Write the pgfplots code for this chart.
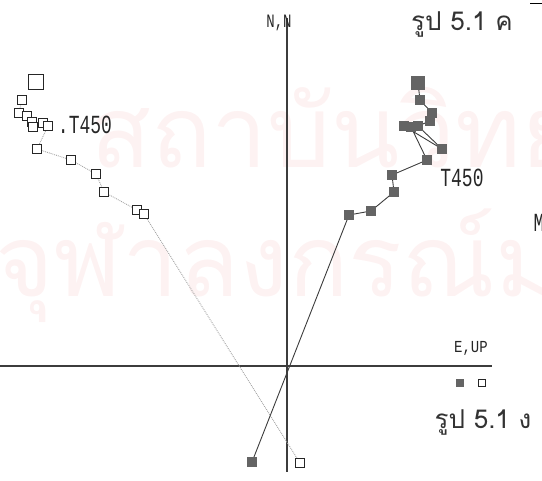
\documentclass[border=0pt]{standalone}
\usepackage{fontspec}
\usepackage{pgfplots}
\pgfplotsset{compat=1.18}
\setmainfont{Liberation Sans}
\newfontfamily\mono{Liberation Mono}
\newfontfamily\thai[Script=Thai]{Loma}
\definecolor{wm}{RGB}{253,242,242}
\definecolor{fsq}{RGB}{100,100,100}
\definecolor{ln}{RGB}{60,60,60}
\begin{document}
\begin{tikzpicture}
\begin{axis}[width=542pt,height=481pt,scale only axis,
  xmin=-287,xmax=255,ymin=-115,ymax=366,hide axis,clip=false]
\coordinate (ll) at (axis cs:-287,-115);
\coordinate (ur) at (axis cs:255,366);
% watermark
\node[text=wm, font=\thai\fontsize{100}{100}\selectfont, anchor=base west, inner sep=0pt] at (axis cs:-197,198) {สถาบันวิทยบริการ};
\node[text=wm, font=\thai\fontsize{100}{100}\selectfont, anchor=base west, inner sep=0pt] at (axis cs:-292,69) {จุฬาลงกรณ์มหาวิทยาลัย};
% axes
\addplot[ln, line width=1.1pt] coordinates {(-287,0) (205,0)};
\addplot[ln, line width=1.1pt] coordinates {(0,348) (0,-106)};
% open squares (vertical projection)
\addplot[gray!70, line width=0.9pt, densely dotted, mark=square*, mark size=4.5pt,
  mark options={solid, draw=black!85, fill=white, line width=0.8pt}] coordinates {
(-265,266) (-268,253) (-260,250) (-255,244) (-254,239) (-244,243) (-239,240)
(-250,217) (-216,206) (-191,192) (-183,174) (-150,156) (-143,152) (13,-97)};
\addplot[only marks, mark=square*, mark size=7.5pt,
  mark options={draw=black!85, fill=white, line width=0.9pt}] coordinates {(-251,284)};
% filled squares (horizontal projection)
\addplot[ln, line width=0.9pt, mark=square*, mark size=4.5pt,
  mark options={draw=fsq, fill=fsq}] coordinates {
(131,283) (133,266) (145,253) (143,245) (131,240) (155,217) (117,240) (124,239)
(140,206) (105,191) (107,174) (84,155) (62,151) (-35,-96)};
\addplot[only marks, mark=square*, mark size=6.5pt,
  mark options={draw=fsq, fill=fsq}] coordinates {(131,283)};
% legend marks
\addplot[only marks, mark=square*, mark size=3.5pt, mark options={draw=fsq, fill=fsq}] coordinates {(173,-17)};
\addplot[only marks, mark=square*, mark size=3.5pt, mark options={draw=black!85, fill=white, line width=0.8pt}] coordinates {(195,-17)};
\addplot[black, line width=1pt] coordinates {(243,362) (256,362)};
% labels
\node[font=\mono\fontsize{18}{18}\selectfont, yscale=1.45, text=black!85] at (axis cs:-202,241) {.T450};
\node[font=\mono\fontsize{18}{18}\selectfont, yscale=1.45, text=black!85] at (axis cs:175,188) {T450};
\node[font=\mono\fontsize{14}{14}\selectfont, yscale=1.35, text=black!85] at (axis cs:-8,343) {N,N};
\node[font=\mono\fontsize{14}{14}\selectfont, yscale=1.2, text=black!85] at (axis cs:184,18) {E,UP};
\node[font=\mono\fontsize{18}{18}\selectfont, yscale=1.45, text=black!85] at (axis cs:252,143) {M};
\node[font=\thai\fontsize{26}{26}\selectfont, text=black!80] at (axis cs:175,341) {รูป 5.1 ค};
\node[font=\thai\fontsize{26}{26}\selectfont, text=black!80] at (axis cs:196,-57) {รูป 5.1 ง};
\end{axis}
\pgfresetboundingbox
\path[use as bounding box] (ll) rectangle (ur);
\end{tikzpicture}
\end{document}
